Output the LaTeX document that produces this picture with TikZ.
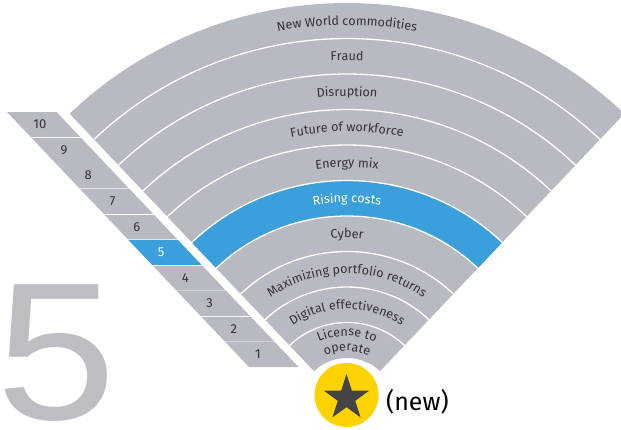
\documentclass[tikz,border=0pt]{standalone}
\usepackage{fontspec}
\usepackage{graphicx}
\setmainfont{Fira Sans}
\newfontfamily\digitfont{Liberation Sans}
\usetikzlibrary{decorations.text,shapes.geometric}
\definecolor{fangray}{HTML}{B7BAC2}
\definecolor{eyblue}{HTML}{3A9FDA}
\definecolor{labeltext}{HTML}{333336}
\definecolor{bigfivecol}{HTML}{BDBEC1}
\definecolor{eyyellow}{HTML}{FFD200}
\definecolor{stargray}{HTML}{444447}
\newcommand\arclabel[3]{%
  \path[decorate, decoration={text along path, text align=center,
    text={|\fontsize{12.6}{14}\selectfont\color{#3}|#2}}]
    (133.5:#1) arc[start angle=133.5, end angle=46.5, radius=#1];}
\begin{document}
\begin{tikzpicture}[x=1pt,y=1pt,
  sep/.style={white, line width=1.3pt},
  numlabel/.style={font=\fontsize{13}{15}\selectfont, inner sep=0pt}]
\useasboundingbox (0,0) rectangle (621,430);

% big five
\node[anchor=base west, inner sep=0pt, text=bigfivecol,
  font=\digitfont\fontsize{196}{196}\selectfont] (bigfive) at (0,10) {\hspace*{-4pt}\scalebox{1.1}[1]{5}};

% number strip
\foreach \i in {1,...,10} {
  \pgfmathsetmacro\yb{62.8+25.55*(\i-1)}
  \pgfmathsetmacro\yt{\yb+25.55}
  \pgfmathsetmacro\xlb{6.7+(318.3-\yb)*0.949}
  \pgfmathsetmacro\xlt{6.7+(318.3-\yt)*0.949}
  \def\cellcol{fangray}\def\numcol{labeltext}
  \ifnum\i=5 \def\cellcol{eyblue}\def\numcol{white}\fi
  \fill[\cellcol] (\xlb,\yb) -- (\xlb+49.5,\yb) -- (\xlt+49.5,\yt) -- (\xlt,\yt) -- cycle;
  \draw[sep] (\xlt-2,\yt) -- (\xlt+52,\yt);
  \node[numlabel, text=\numcol] (n\i) at ({(\xlb+\xlt)/2+21}, {(\yb+\yt)/2}) {\i};
}

% fan
\begin{scope}[shift={(347,24)}]
  \fill[fangray] (46.5:48) -- (46.5:403) arc[start angle=46.5, end angle=133.5, radius=403]
    -- (133.5:48) arc[start angle=133.5, end angle=46.5, radius=48] -- cycle;
  \fill[eyblue] (46.5:190) -- (46.5:225.5) arc[start angle=46.5, end angle=133.5, radius=225.5]
    -- (133.5:190) arc[start angle=133.5, end angle=46.5, radius=190] -- cycle;
  \foreach \r in {83.5,119,154.5,190,225.5,261,296.5,332,367.5}
    \draw[sep] (46.5:\r) arc[start angle=46.5, end angle=133.5, radius=\r];
  \arclabel{381}{New World commodities}{labeltext}
  \arclabel{345.5}{Fraud}{labeltext}
  \arclabel{310}{Disruption}{labeltext}
  \arclabel{274.5}{Future of workforce}{labeltext}
  \arclabel{239}{Energy mix}{labeltext}
  \arclabel{203.5}{Rising costs}{white}
  \arclabel{168}{Cyber}{labeltext}
  \arclabel{132.5}{Maximizing portfolio returns}{labeltext}
  \arclabel{97}{Digital effectiveness}{labeltext}
  \arclabel{70}{License to}{labeltext}
  \arclabel{55}{operate}{labeltext}
\end{scope}

% badge
\node[circle, fill=eyyellow, minimum size=64pt, inner sep=0pt] (badge) at (346.5,35) {};
\node[star, star points=5, star point ratio=2.618, fill=stargray, minimum size=48pt, inner sep=0pt] (star) at (346.5,32) {};
\node[anchor=base west, inner sep=0pt, font=\fontsize{25}{28}\selectfont] (newlabel) at (386,19) {(new)};
\end{tikzpicture}
\end{document}
